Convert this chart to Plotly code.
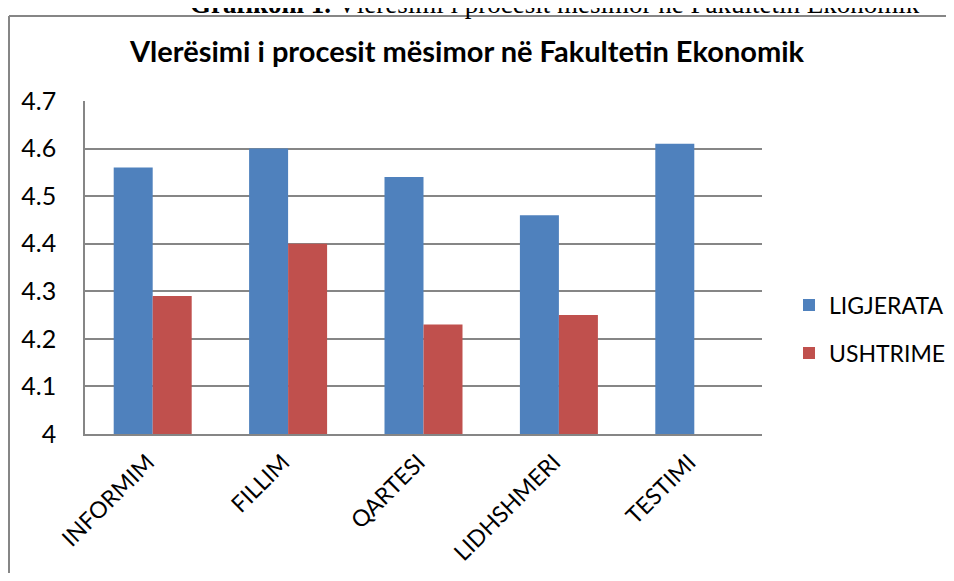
import plotly.graph_objects as go

categories = ["INFORMIM", "FILLIM", "QARTESI", "LIDHSHMERI", "TESTIMI"]
ligjerata = [4.56, 4.60, 4.54, 4.46, 4.61]
ushtrime = [4.29, 4.40, 4.23, 4.25, None]
y_ticks = [4, 4.1, 4.2, 4.3, 4.4, 4.5, 4.6, 4.7]
y_tick_text = ["4", "4.1", "4.2", "4.3", "4.4", "4.5", "4.6", "4.7"]

OFF = 8  # page body margin
W, H = 954 - 2 * OFF, 581 - 2 * OFF
# plot area in page pixels
PL, PR, PT, PB = 85, 762, 101, 434
L, T = PL - OFF, PT - OFF
R, B = W - (PR - OFF), H - (PB - OFF)
pw, ph = PR - PL, PB - PT

def px_x(x):
    return (x - PL) / pw

def px_y(y):
    return 1 + (PT - y) / ph

font_main = "Lato, 'Open Sans', sans-serif"

fig = go.Figure()
fig.add_trace(go.Bar(x=categories, y=ligjerata, name="LIGJERATA", legend="legend",
                     marker=dict(color="#4F81BD", line=dict(width=0))))
fig.add_trace(go.Bar(x=categories, y=ushtrime, name="USHTRIME", legend="legend2",
                     marker=dict(color="#C0504D", line=dict(width=0))))

leg_common = dict(xanchor="left", yanchor="middle",
                  font=dict(family=font_main, size=23, color="#000"),
                  bgcolor="rgba(0,0,0,0)")

border = dict(color="#868686", width=2)

fig.update_layout(
    width=W, height=H,
    margin=dict(l=L, r=R, t=T, b=B, pad=0, autoexpand=False),
    paper_bgcolor="white", plot_bgcolor="white",
    barmode="group", bargap=0.424, bargroupgap=0,
    showlegend=True,
    legend=dict(x=px_x(789), y=px_y(305), **leg_common),
    legend2=dict(x=px_x(789), y=px_y(353), **leg_common),
    xaxis=dict(tickangle=-45, tickfont=dict(family=font_main, size=23, color="#000"),
               showline=True, linecolor="#868686", linewidth=1.5,
               ticks="", showgrid=False, range=[-0.5, 4.5], automargin=False,
               ticklabelshift=-5, ticklabelstandoff=4),
    yaxis=dict(range=[4, 4.7], tickvals=y_ticks, ticktext=y_tick_text,
               tickfont=dict(family=font_main, size=25, color="#000"),
               showgrid=True, gridcolor="#868686", gridwidth=1.5,
               showline=True, linecolor="#868686", linewidth=1.5,
               ticks="", ticklabelstandoff=22, zeroline=False, automargin=False),
    annotations=[
        dict(text="<b>Vlerësimi i procesit mësimor në Fakultetin Ekonomik</b>",
             x=px_x(467), y=px_y(50), xref="paper", yref="paper",
             xanchor="center", yanchor="middle", showarrow=False,
             font=dict(family=font_main, size=29, color="#000")),
        dict(text="<b>Grafikoni 1.</b> Vlerësimi i procesit mësimor në Fakultetin Ekonomik",
             x=px_x(555), y=px_y(21), xref="paper", yref="paper",
             xanchor="center", yanchor="bottom", showarrow=False,
             font=dict(family="'Liberation Serif', 'Times New Roman', serif", size=27, color="#000")),
    ],
    shapes=[
        dict(type="line", xref="paper", yref="paper",
             x0=px_x(9), x1=px_x(1000), y0=px_y(16), y1=px_y(16), line=border),
        dict(type="line", xref="paper", yref="paper",
             x0=px_x(9), x1=px_x(9), y0=px_y(16), y1=px_y(640), line=border),
    ],
)

fig.write_html("out.html")
